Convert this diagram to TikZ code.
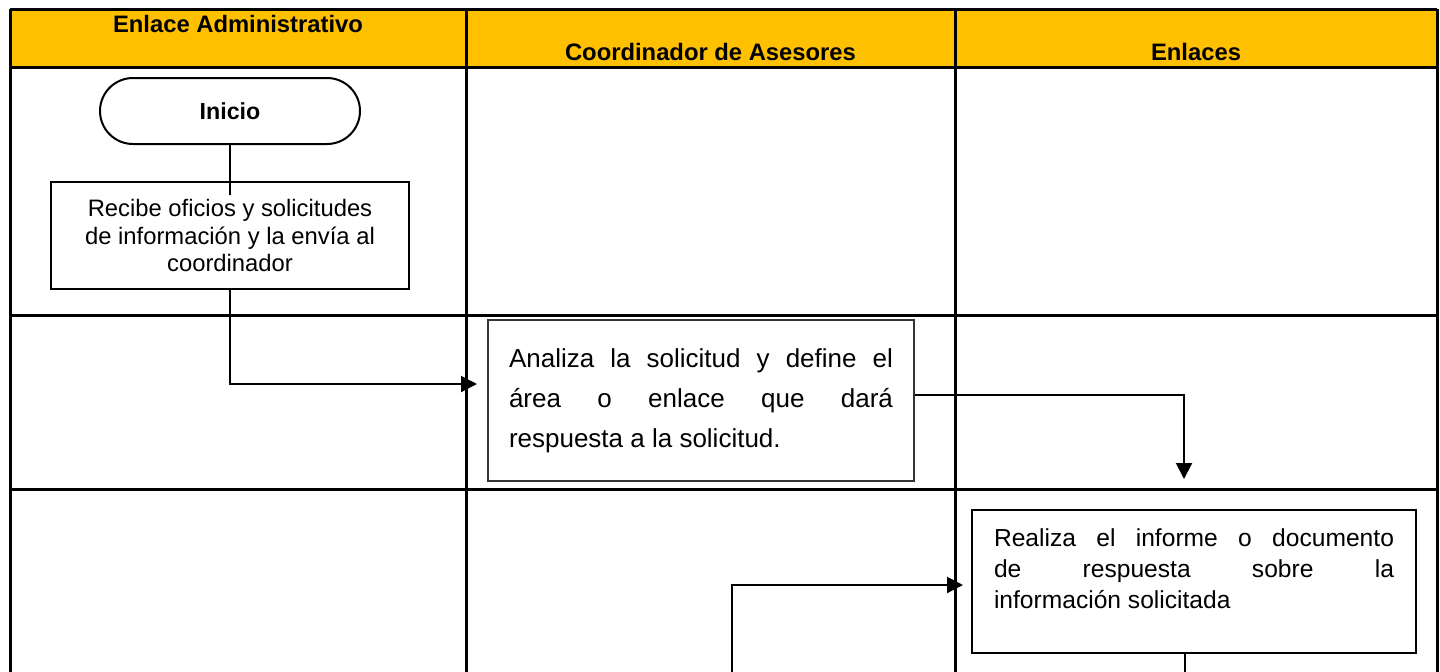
\documentclass[tikz,border=0pt]{standalone}
\usepackage{fontspec}
\setmainfont{Liberation Sans}
\usetikzlibrary{arrows.meta,shapes.misc}
\definecolor{hdr}{HTML}{FFC000}
\begin{document}
\begin{tikzpicture}[x=0.5pt,y=-0.5pt,
  grid/.style={line width=1.5pt},
  hdrtext/.style={font=\fontsize{11.9}{14}\selectfont\bfseries, anchor=base, inner sep=0},
  procbox/.style={draw, line width=1pt, inner sep=0},
  conn/.style={line width=1pt},
  arr/.style={conn, -{Triangle[length=8pt,width=8pt]}}]
\useasboundingbox (0,0) rectangle (1440,671);
\clip (0,0) rectangle (1440,671);
% table
\fill[hdr] (10,9) rectangle (1437,67);
\draw[grid] (10,9) -- (1437,9);
\draw[grid] (10,67) -- (1437,67);
\draw[grid] (10,315) -- (1437,315);
\draw[grid] (10,489) -- (1437,489);
\foreach \x in {10,466,955,1437} \draw[grid] (\x,9) -- (\x,680);
% headers
\node[hdrtext] (h1) at (238,32) {Enlace Administrativo};
\node[hdrtext] (h2) at (710.5,60) {Coordinador de Asesores};
\node[hdrtext] (h3) at (1196,60) {Enlaces};
% nodes
\node[draw, line width=1pt, rounded rectangle, minimum width=130pt, minimum height=33pt, inner sep=0,
  font=\fontsize{11.6}{14}\selectfont\bfseries] (inicio) at (230,111) {Inicio};
\node[procbox, minimum width=179pt, minimum height=53.5pt, align=center,
  font=\fontsize{11.9}{13.75}\selectfont] (recibe) at (230,235.5)
  {Recibe oficios y solicitudes\\de información y la envía al\\coordinador};
\node[procbox, draw=black!80, minimum width=213pt, minimum height=80.5pt] (analiza) at (701,400.5)
  {\parbox{192pt}{\fontsize{13}{20}\selectfont Analiza la solicitud y define el\linebreak área o enlace que dará\linebreak respuesta a la solicitud.}};
\node[procbox, minimum width=221pt, minimum height=71.5pt, inner xsep=11pt, inner ysep=9.5pt] (realiza) at (1194,581.5)
  {\parbox[c][52.5pt][t]{200pt}{\fontsize{12.3}{15.5}\selectfont Realiza el informe o documento\linebreak de respuesta sobre la\linebreak información solicitada}};
% connectors
\coordinate (c1) at (230,195);
\draw[conn] (inicio.south) -- (c1);
\draw[arr, shorten >=5pt] (recibe.south) |- ([yshift=8.25pt]analiza.west);
\draw[arr, shorten >=15pt] ([yshift=2.75pt]analiza.east) -| ([xshift=-5pt]realiza.north);
\coordinate (c2) at (732,680);
\draw[arr, shorten >=4pt] (c2) |- ([yshift=-1.75pt]realiza.west);
\coordinate (c3) at (1185,680);
\draw[conn] ([xshift=-4.5pt]realiza.south) -- (c3);
\end{tikzpicture}
\end{document}
